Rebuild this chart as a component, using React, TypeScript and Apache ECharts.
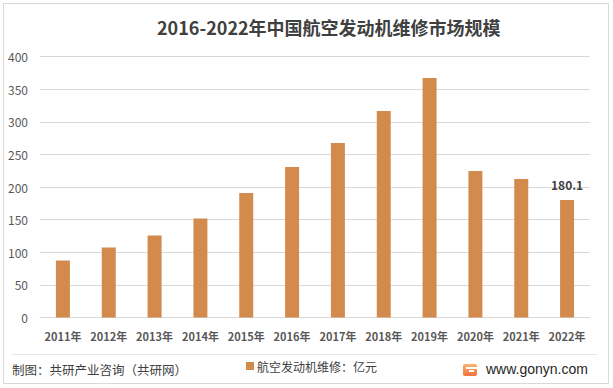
import React, { useEffect, useRef } from "react";
import * as echarts from "echarts";

const categories = ["2011年", "2012年", "2013年", "2014年", "2015年", "2016年", "2017年", "2018年", "2019年", "2020年", "2021年", "2022年"];
const values = [87.5, 107.3, 125.6, 151.6, 190.8, 230.6, 267.4, 316.5, 367, 224.5, 212.3, 180.1];
const labeledIndex = 11;
const seriesName = "航空发动机维修：亿元";
const titleText = "2016-2022年中国航空发动机维修市场规模";
const sourceText = "制图：共研产业咨询（共研网）";
const siteText = "www.gonyn.com";

const FONT = "'Noto Sans CJK SC', 'Noto Sans', sans-serif";

export default function App() {
  const ref = useRef<HTMLDivElement>(null);
  useEffect(() => {
    if (!ref.current) return;
    const chart = echarts.init(ref.current, null, { renderer: "svg" });
    chart.setOption({
      animation: false,
      backgroundColor: "#ffffff",
      textStyle: { fontFamily: FONT },
      title: {
        text: titleText,
        left: 152,
        top: 13,
        textStyle: { fontFamily: FONT, fontSize: 18, fontWeight: "bold", color: "#404040" },
      },
      legend: {
        data: [seriesName],
        left: 241,
        top: 355,
        icon: "rect",
        itemWidth: 8,
        itemHeight: 8,
        itemGap: 4,
        textStyle: { fontFamily: FONT, fontSize: 12, color: "#404040", padding: [0, 0, 0, -2] },
      },
      grid: { left: 40, right: 23, top: 56.5, bottom: 70.5, containLabel: false },
      xAxis: {
        type: "category",
        data: categories,
        axisLine: { lineStyle: { color: "#d9d9d9" } },
        axisTick: { show: false },
        axisLabel: { fontFamily: FONT, fontSize: 11, fontWeight: "bold", color: "#595959", margin: 13, interval: 0 },
      },
      yAxis: {
        type: "value",
        min: 0,
        max: 400,
        interval: 50,
        axisLine: { show: false },
        axisTick: { show: false },
        axisLabel: { fontFamily: FONT, fontSize: 12, color: "#595959", margin: 12 },
        splitLine: { lineStyle: { color: "#d9d9d9", width: 1 } },
      },
      series: [
        {
          name: seriesName,
          type: "bar",
          data: values.map((v, i) =>
            i === labeledIndex
              ? {
                  value: v,
                  label: {
                    show: true,
                    position: "top",
                    distance: 9,
                    fontFamily: FONT,
                    fontSize: 12,
                    fontWeight: "bold",
                    color: "#404040",
                  },
                }
              : v
          ),
          barWidth: 14,
          itemStyle: { color: "#d38b4d" },
        },
      ],
      graphic: [
        {
          type: "rect",
          shape: { x: 3.5, y: 3.5, width: 605, height: 380 },
          style: { fill: "none", stroke: "#d9d9d9", lineWidth: 1 },
          silent: true,
        },
        {
          type: "line",
          shape: { x1: 12, y1: 354.5, x2: 597, y2: 354.5 },
          style: { stroke: "#e6e6e6", lineWidth: 1 },
          silent: true,
        },
        {
          type: "text",
          left: 12,
          top: 363,
          style: { text: sourceText, font: `12.5px ${FONT}`, fill: "#404040" },
        },
        {
          type: "rect",
          shape: { x: 463, y: 364, width: 14, height: 12, r: 2 },
          style: {
            fill: new echarts.graphic.LinearGradient(0, 0, 0, 1, [
              { offset: 0, color: "#fbb36b" },
              { offset: 1, color: "#f0713c" },
            ]),
          },
          silent: true,
        },
        {
          type: "rect",
          shape: { x: 466, y: 367, width: 11, height: 2 },
          style: { fill: "#ffffff" },
          silent: true,
        },
        {
          type: "rect",
          shape: { x: 469, y: 370, width: 5, height: 2 },
          style: { fill: "#ffffff" },
          silent: true,
        },
        {
          type: "text",
          left: 486,
          top: 362,
          style: { text: siteText, font: `14px 'Liberation Sans', Arial, sans-serif`, fill: "#262626" },
        },
      ],
    });
    return () => chart.dispose();
  }, []);
  return <div ref={ref} style={{ position: "absolute", left: 0, top: 0, width: 613, height: 388 }} />;
}
